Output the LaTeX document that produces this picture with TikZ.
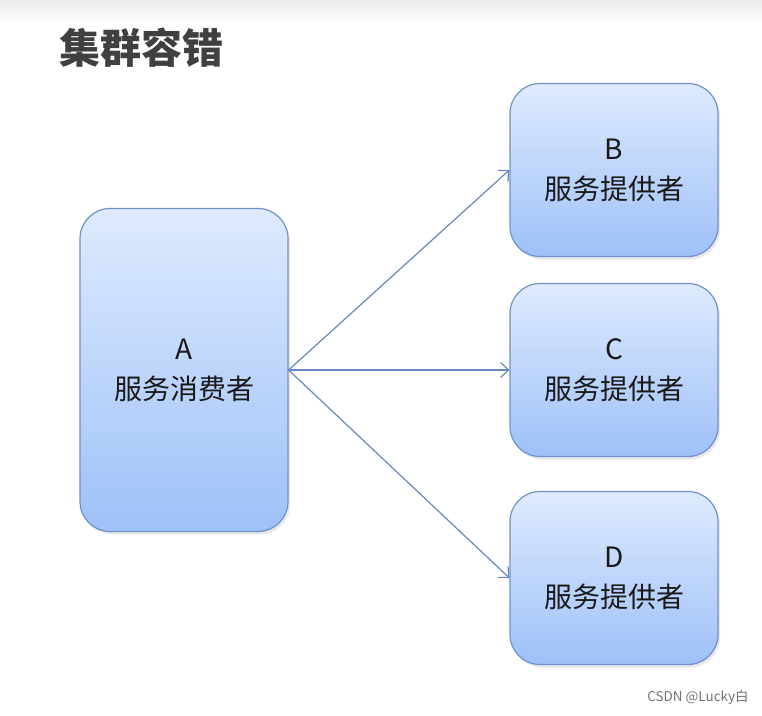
\documentclass[tikz,border=0pt]{standalone}
\usepackage{fontspec}
\setmainfont{Noto Sans CJK SC}
\usetikzlibrary{shadows,arrows.meta}
\definecolor{boxtop}{RGB}{222,234,253}
\definecolor{boxbot}{RGB}{158,193,248}
\definecolor{boxline}{RGB}{112,146,200}
\definecolor{linkblue}{RGB}{102,136,192}
\definecolor{titlegray}{RGB}{64,64,64}
\tikzset{
  svcbox/.style={draw=boxline, line width=1.2pt, rounded corners=30pt,
    top color=boxtop, bottom color=boxbot, inner sep=0pt,
    align=center, font=\fontsize{28}{40}\selectfont, text=black!90,
    drop shadow={shadow xshift=2pt, shadow yshift=-3pt, opacity=0.18}},
  link/.style={draw=linkblue, line width=1.2pt, -{Straight Barb[length=8pt,width=15pt]}}
}
\begin{document}
\begin{tikzpicture}[x=1pt,y=-1pt]
  \useasboundingbox (0,0) rectangle (762,715);
  \fill[top color=black!8, bottom color=white] (0,0) rectangle (762,24);
  % title
  \node[font=\fontsize{41}{48}\selectfont\bfseries, text=titlegray] (title) at (141,48) {集群容错};
  % consumer
  \node[svcbox, minimum width=208pt, minimum height=323pt] (A) at (184,370) {A\\服务消费者};
  % providers
  \foreach \name/\y in {B/170, C/370, D/578} {
    \node[svcbox, minimum width=208pt, minimum height=173pt] (\name) at (614,\y) {\name\\服务提供者};
    \draw[link] (A.east) -- (\name.west);
  }
  \node[font=\fontsize{13.5}{15}\selectfont, text=black!55] (mark) at (698,697) {CSDN @Lucky白};
\end{tikzpicture}
\end{document}
